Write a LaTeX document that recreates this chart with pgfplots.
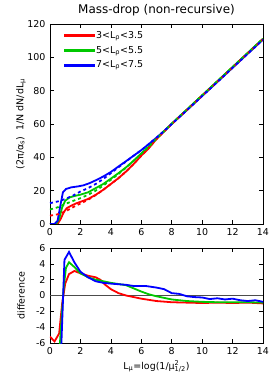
\documentclass[border=0pt]{standalone}
\usepackage{fontspec}
\setmainfont{DejaVu Sans}
\usepackage{pgfplots}
\pgfplotsset{compat=1.18}
\definecolor{cred}{RGB}{255,0,0}
\definecolor{cgreen}{RGB}{0,200,0}
\definecolor{cblue}{RGB}{0,0,255}
\pgfplotsset{
  gp/.style={
    scale only axis, width=213bp,
    xmin=0, xmax=14, xtick={0,2,...,14},
    tick align=inside, major tick length=4bp,
    tick style={black, line width=0.6pt},
    axis line style={black, line width=0.8pt},
    font=\fontsize{9.5}{11}\selectfont,
    /pgf/number format/assume math mode=true,
    xticklabel style={yshift=-1bp},
    yticklabel style={xshift=-1bp},
  },
  thickline/.style={line width=1.8bp},
  dotline/.style={line width=1.8bp, dash pattern=on 3bp off 3bp},
}
\begin{document}
\begin{tikzpicture}
\useasboundingbox (-50bp,-157bp) rectangle (224bp,224bp);
\begin{axis}[gp, name=top, at={(0,0)}, anchor=south west, height=200bp,
  ymin=0, ymax=120, ytick={0,20,...,120},
  title={Mass-drop (non-recursive)},
  title style={font=\fontsize{12}{14}\selectfont, at={(axis description cs:0.5,1)}, anchor=base, yshift=5bp},
  ylabel={(2π/α\textsubscript{s})\ \ 1/N dN/dL\textsubscript{μ}},
  ylabel style={at={(axis description cs:-0.136,0.5)}, anchor=center},
  legend style={at={(axis description cs:0.05,0.985)}, anchor=north west,
    draw=none, fill=none, row sep=2.5bp},
  legend cell align=left,
]
\addlegendimage{legend image code/.code={\fill[cred] (-2bp,-0.9bp) rectangle (28bp,0.9bp);}}
\addlegendentry{3<L\textsubscript{ρ}<3.5}
\addlegendimage{legend image code/.code={\fill[cgreen] (-2bp,-0.9bp) rectangle (28bp,0.9bp);}}
\addlegendentry{5<L\textsubscript{ρ}<5.5}
\addlegendimage{legend image code/.code={\fill[cblue] (-2bp,-0.9bp) rectangle (28bp,0.9bp);}}
\addlegendentry{7<L\textsubscript{ρ}<7.5}
\addplot[cred, thickline, forget plot] coordinates {(0,0)(0.5,0)(0.7,3)(0.9,7)(1.1,9.5)(1.4,11)(1.7,12.3)(2,13.3)(2.5,15)(3,17.5)(3.5,20.5)(4,24)(4.5,27.5)(5,31.5)(5.5,36)(6,41)(6.5,45.5)(7,51)(7.5,55.5)(8,60)(9,68.5)(10,77)(11,85.5)(12,94)(13,102.5)(14,111)};
\addplot[cgreen, thickline, forget plot] coordinates {(0,0)(0.4,0)(0.6,3)(0.8,10)(1,14)(1.3,16)(1.7,17)(2,17.6)(2.5,19)(3,21.5)(3.5,24)(4,27.2)(4.5,30.5)(5,34)(5.5,38)(6,42.3)(6.5,46.5)(7,51.3)(7.5,55.7)(8,60.2)(9,68.7)(10,77.2)(11,85.7)(12,94.2)(13,102.7)(14,111.2)};
\addplot[cblue, thickline, forget plot] coordinates {(0,0)(0.3,0)(0.5,2)(0.7,12)(0.85,19)(1.05,21)(1.4,22)(1.8,22.5)(2.2,23.2)(2.6,24.5)(3,26.2)(3.5,28.5)(4,31.2)(4.5,34.5)(5,37.7)(5.5,41)(6,44.3)(6.5,48)(7,51.8)(7.5,55.8)(8,60)(9,68.3)(10,76.8)(11,85.2)(12,93.7)(13,102.2)(14,110.6)};
\addplot[cred, dotline, forget plot] coordinates {(0,5)(0.5,5.8)(1,7.5)(1.5,10)(2,12.3)(2.5,14.5)(3,17.3)(3.5,20.5)(4,24)(4.5,27.5)(5,31.5)(5.5,36)(6,41)(6.5,45.7)(7,51)(7.5,55.5)(8,60)(9,68.5)(10,77)(11,85.5)(12,94)(13,102.5)(14,111)};
\addplot[cgreen, dotline, forget plot] coordinates {(0,8.7)(0.5,10)(1,12)(1.5,13.8)(2,15.5)(2.5,17.5)(3,20)(3.5,23)(4,26.5)(4.5,30)(5,33.8)(5.5,38)(6,42.3)(6.5,46.5)(7,51.3)(7.5,55.7)(8,60.2)(9,68.7)(10,77.2)(11,85.7)(12,94.2)(13,102.7)(14,111.2)};
\addplot[cblue, dotline, forget plot] coordinates {(0,12.5)(0.5,13.5)(1,15)(1.5,17)(2,19.5)(2.5,21.5)(3,24)(3.5,27)(4,30.5)(4.5,34)(5,37.5)(5.5,41)(6,44.3)(6.5,48)(7,51.8)(7.5,55.8)(8,60)(9,68.3)(10,76.8)(11,85.2)(12,93.7)(13,102.2)(14,110.6)};
\end{axis}
\begin{axis}[gp, name=bot, at={(0,-24bp)}, anchor=north west, height=95bp,
  ymin=-6, ymax=6, ytick={-6,-4,...,6},
  ylabel={difference},
  ylabel style={at={(axis description cs:-0.136,0.5)}, anchor=center},
  xlabel={L\textsubscript{μ}=log(1/μ\rlap{\textsuperscript{2}}\textsubscript{1/2})},
  xlabel style={yshift=1bp},
]
\addplot[black!70, line width=0.6pt] coordinates {(0,0)(14,0)};
\addplot[cred, thickline] coordinates {(0,-5.2)(0.3,-5.8)(0.6,-4.8)(0.8,-1)(1.0,1.5)(1.25,2.7)(1.6,3.1)(2,2.8)(2.5,2.5)(3,2.3)(3.3,2.0)(3.6,1.4)(4,0.8)(4.5,0.3)(5,0)(5.5,-0.2)(6,-0.4)(6.5,-0.55)(7,-0.7)(8,-0.85)(9,-0.9)(10,-0.95)(11,-0.9)(12,-0.95)(13,-0.9)(14,-1.0)};
\addplot[cgreen, thickline] coordinates {(0.6,-7.5)(0.9,1)(1.05,3.5)(1.25,4.2)(1.6,3.6)(2,2.8)(2.5,2.3)(3,2.0)(4,1.6)(5,1.3)(5.5,0.9)(6,0.5)(6.5,0.15)(7,-0.1)(7.5,-0.3)(8,-0.5)(9,-0.7)(10,-0.8)(11,-0.85)(12,-0.85)(13,-0.85)(14,-0.9)};
\addplot[cblue, thickline] coordinates {(0.6,-8)(0.75,-6)(0.95,4.5)(1.25,5.5)(1.6,4.2)(2,3.0)(2.5,2.3)(3,1.8)(3.5,1.6)(4,1.5)(5,1.35)(5.5,1.2)(6,1.2)(6.3,1.2)(7,1.0)(7.5,0.8)(8,0.3)(8.5,0.2)(9,-0.1)(9.5,-0.2)(10,-0.25)(10.5,-0.45)(11,-0.35)(11.5,-0.5)(12,-0.4)(12.5,-0.6)(13,-0.7)(13.5,-0.6)(14,-0.8)};
\end{axis}
\end{tikzpicture}
\end{document}
